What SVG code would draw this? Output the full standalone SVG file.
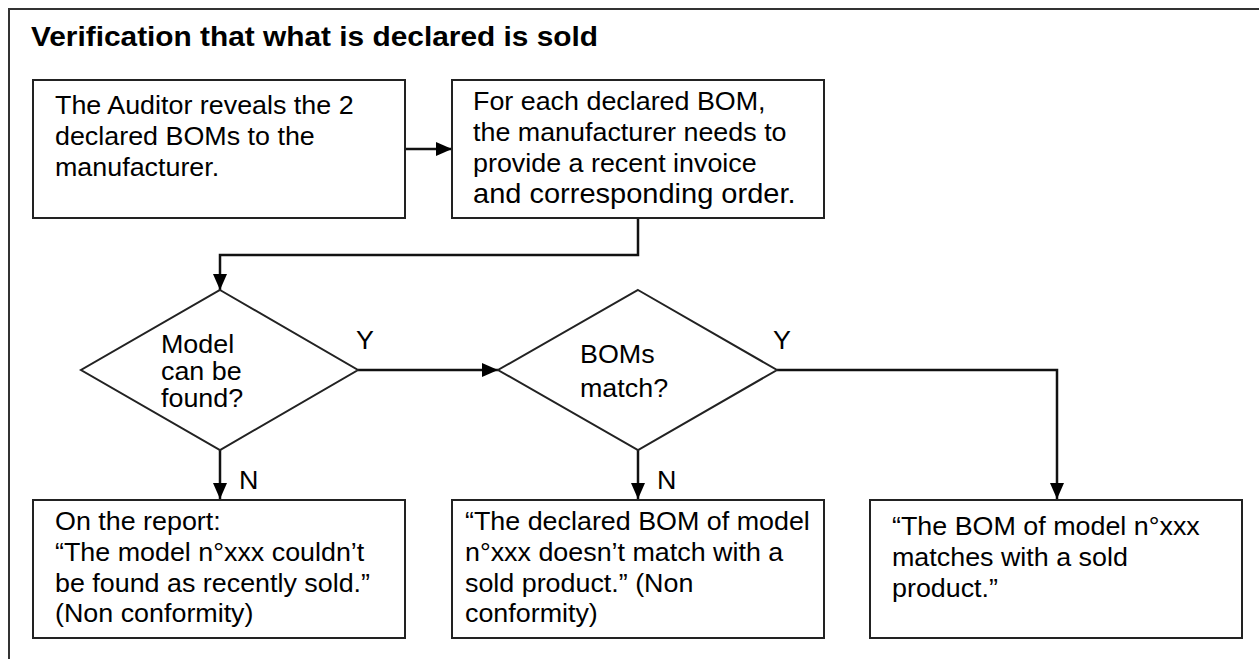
<svg xmlns="http://www.w3.org/2000/svg" width="1259" height="659" viewBox="0 0 1259 659">
<defs>
<style>
.t{font-family:"Liberation Sans",Arial,sans-serif;font-size:25px;fill:#000}
.title{font-family:"Liberation Sans",Arial,sans-serif;font-size:27.5px;font-weight:bold;fill:#000}
.box{fill:#fff;stroke:#222;stroke-width:2}
.dia{fill:#fff;stroke:#222;stroke-width:2}
.con{fill:none;stroke:#111;stroke-width:2.5}
</style>
<marker id="arr" viewBox="0 0 16 14" refX="16" refY="7" markerWidth="16" markerHeight="14" markerUnits="userSpaceOnUse" orient="auto">
<path d="M0,0 L16,7 L0,14 Z" fill="#000"/>
</marker>
</defs>
<rect width="1259" height="659" fill="#fff"/>
<path d="M9,659 V9 H1259" fill="none" stroke="#333" stroke-width="2"/>
<text class="title" transform="translate(31,46) scale(1.085,1)">Verification that what is declared is sold</text>

<g id="connectors">
<path class="con" d="M405,149 H452" marker-end="url(#arr)"/>
<path class="con" d="M638,218 V255 H220 V290" marker-end="url(#arr)"/>
<path class="con" d="M358,370 H498" marker-end="url(#arr)"/>
<path class="con" d="M777,370 H1057 V499" marker-end="url(#arr)"/>
<path class="con" d="M220,450 V499" marker-end="url(#arr)"/>
<path class="con" d="M638,450 V499" marker-end="url(#arr)"/>
<text class="t" transform="translate(356,349) scale(1.075,1)">Y</text>
<text class="t" transform="translate(773,349) scale(1.075,1)">Y</text>
<text class="t" transform="translate(239,489) scale(1.075,1)">N</text>
<text class="t" transform="translate(657,489) scale(1.075,1)">N</text>
</g>

<g id="box1">
<rect class="box" x="33" y="80" width="372" height="138"/>
<text class="t" transform="translate(55,114) scale(1.075,1)"><tspan x="0" y="0">The Auditor reveals the 2</tspan><tspan x="0" y="31">declared BOMs to the</tspan><tspan x="0" y="62">manufacturer.</tspan></text>
</g>

<g id="box2">
<rect class="box" x="452" y="80" width="372" height="138"/>
<text class="t" transform="translate(473,110) scale(1.075,1)"><tspan x="0" y="0">For each declared BOM,</tspan><tspan x="0" y="31">the manufacturer needs to</tspan><tspan x="0" y="62">provide a recent invoice</tspan><tspan x="0" y="93" font-size="27">and corresponding order.</tspan></text>
</g>

<g id="decision1">
<path class="dia" d="M220,290 L358,370 L220,450 L81,370 Z"/>
<text class="t" transform="translate(161,353) scale(1.075,1)"><tspan x="0" y="0">Model</tspan><tspan x="0" y="27">can be</tspan><tspan x="0" y="54">found?</tspan></text>
</g>

<g id="decision2">
<path class="dia" d="M638,290 L777,370 L638,450 L498,370 Z"/>
<text class="t" transform="translate(580,363) scale(1.075,1)"><tspan x="0" y="0">BOMs</tspan><tspan x="0" y="34">match?</tspan></text>
</g>

<g id="box3">
<rect class="box" x="33" y="500" width="372" height="138"/>
<text class="t" transform="translate(55,530) scale(1.075,1)"><tspan x="0" y="0">On the report:</tspan><tspan x="0" y="31">“The model n°xxx couldn’t</tspan><tspan x="0" y="62">be found as recently sold.”</tspan><tspan x="0" y="92">(Non conformity)</tspan></text>
</g>

<g id="box4">
<rect class="box" x="452" y="500" width="372" height="138"/>
<text class="t" transform="translate(465,530) scale(1.075,1)"><tspan x="0" y="0">“The declared BOM of model</tspan><tspan x="0" y="31">n°xxx doesn’t match with a</tspan><tspan x="0" y="62">sold product.” (Non</tspan><tspan x="0" y="92">conformity)</tspan></text>
</g>

<g id="box5">
<rect class="box" x="870" y="500" width="372" height="138"/>
<text class="t" transform="translate(892,535) scale(1.075,1)"><tspan x="0" y="0">“The BOM of model n°xxx</tspan><tspan x="0" y="31">matches with a sold</tspan><tspan x="0" y="62">product.”</tspan></text>
</g>
</svg>
